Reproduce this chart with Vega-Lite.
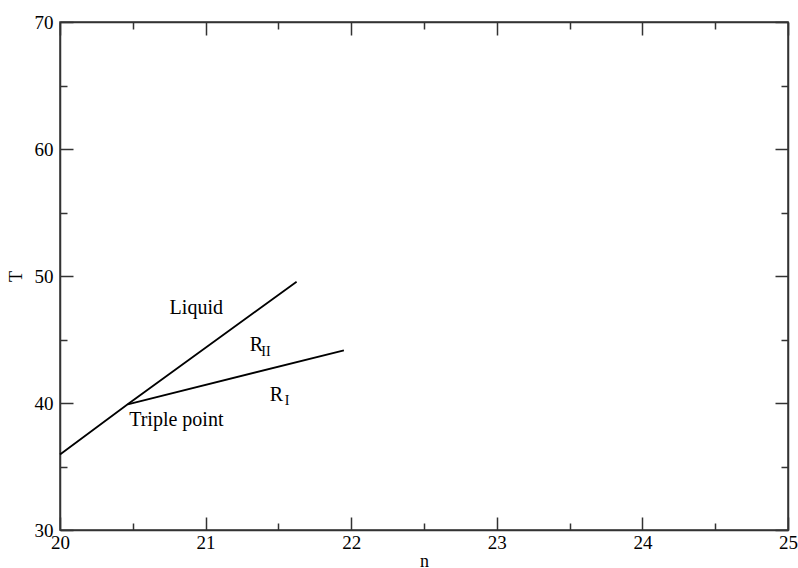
{
  "$schema": "https://vega.github.io/schema/vega-lite/v6.json",
  "autosize": {"type": "none"},
  "width": 728,
  "height": 508,
  "padding": {"left": 60, "top": 22, "right": 10, "bottom": 38},
  "background": "white",
  "config": {
    "view": {"stroke": "#333", "strokeWidth": 1.5},
    "font": "Liberation Serif",
    "axis": {"grid": false, "domainColor": "#333", "domainWidth": 1.5, "tickColor": "#333", "tickWidth": 1.5,
      "labelFont": "Liberation Serif", "labelFontSize": 19, "labelColor": "black",
      "titleFont": "Liberation Serif", "titleFontSize": 18, "titleFontWeight": "normal", "titleColor": "black"}
  },
  "datasets": {
    "lines": [
      {"n": 20.0, "T": 35.95, "curve": "liquid"},
      {"n": 20.465, "T": 39.9, "curve": "liquid"},
      {"n": 21.625, "T": 49.55, "curve": "liquid"},
      {"n": 20.465, "T": 39.9, "curve": "RI-RII"},
      {"n": 21.95, "T": 44.15, "curve": "RI-RII"}
    ],
    "labels": [
      {"n": 20.936, "T": 47.5, "label": "Liquid"},
      {"n": 20.799, "T": 38.68, "label": "Triple point"},
      {"n": 21.349, "T": 44.6, "label": "R"},
      {"n": 21.486, "T": 40.65, "label": "R"}
    ],
    "subs": [
      {"n": 21.414, "T": 44.05, "label": "II"},
      {"n": 21.56, "T": 40.12, "label": "I"}
    ]
  },
  "layer": [
    {
      "data": {"name": "lines"},
      "mark": {"type": "line", "color": "black", "strokeWidth": 1.8},
      "encoding": {
        "x": {"field": "n", "type": "quantitative", "scale": {"domain": [20, 25], "nice": false, "zero": false},
          "axis": {"orient": "bottom", "title": "n", "values": [20, 20.5, 21, 21.5, 22, 22.5, 23, 23.5, 24, 24.5, 25],
            "tickSize": {"condition": {"test": "datum.value % 1 === 0", "value": -13}, "value": -7},
            "labelExpr": "datum.value % 1 === 0 ? format(datum.value, 'd') : ''", "labelPadding": 16, "titlePadding": 0, "labelFlush": false}},
        "y": {"field": "T", "type": "quantitative", "scale": {"domain": [30, 70], "nice": false, "zero": false},
          "axis": {"orient": "left", "title": "T", "values": [30, 35, 40, 45, 50, 55, 60, 65, 70],
            "tickSize": {"condition": {"test": "datum.value % 10 === 0", "value": -13}, "value": -7},
            "labelExpr": "datum.value % 10 === 0 ? format(datum.value, 'd') : ''", "labelPadding": 20, "titlePadding": 9}},
        "detail": {"field": "curve"},
        "order": {"field": "n"}
      }
    },
    {
      "data": {"name": "lines"},
      "mark": {"type": "line", "opacity": 0},
      "encoding": {
        "x": {"field": "n", "type": "quantitative", "scale": {"domain": [20, 25], "nice": false, "zero": false},
          "axis": {"orient": "top", "title": null, "labels": false, "values": [20, 20.5, 21, 21.5, 22, 22.5, 23, 23.5, 24, 24.5, 25],
            "tickSize": {"condition": {"test": "datum.value % 1 === 0", "value": -13}, "value": -7}}},
        "y": {"field": "T", "type": "quantitative", "scale": {"domain": [30, 70], "nice": false, "zero": false},
          "axis": {"orient": "right", "title": null, "labels": false, "values": [30, 35, 40, 45, 50, 55, 60, 65, 70],
            "tickSize": {"condition": {"test": "datum.value % 10 === 0", "value": -13}, "value": -7}}},
        "detail": {"field": "curve"}
      }
    },
    {
      "data": {"name": "labels"},
      "mark": {"type": "text", "font": "Liberation Serif", "fontSize": 20, "color": "black", "align": "center", "baseline": "middle"},
      "encoding": {
        "x": {"field": "n", "type": "quantitative", "axis": null},
        "y": {"field": "T", "type": "quantitative", "axis": null},
        "text": {"field": "label"}
      }
    },
    {
      "data": {"name": "subs"},
      "mark": {"type": "text", "font": "Liberation Serif", "fontSize": 14, "color": "black", "align": "center", "baseline": "middle"},
      "encoding": {
        "x": {"field": "n", "type": "quantitative", "axis": null},
        "y": {"field": "T", "type": "quantitative", "axis": null},
        "text": {"field": "label"}
      }
    }
  ],
  "resolve": {"axis": {"x": "independent", "y": "independent"}}
}
